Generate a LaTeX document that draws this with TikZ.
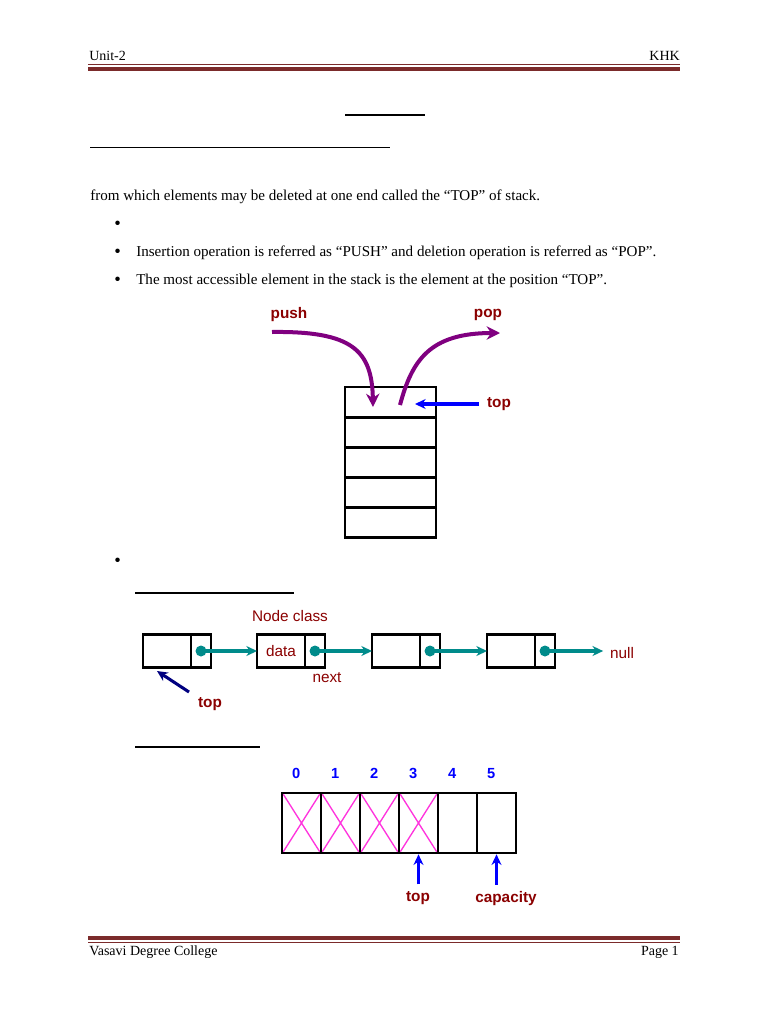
\documentclass[tikz,border=0pt]{standalone}
\usepackage{fontspec}
\setmainfont{Liberation Serif}
\newfontfamily\labelfont{Liberation Sans}
\usetikzlibrary{arrows.meta,positioning}

\def\pxu{0.75pt}
\definecolor{rulered}{HTML}{7B2B2B}
\definecolor{lblred}{HTML}{8B0000}
\definecolor{pushpurple}{HTML}{800080}
\definecolor{linkteal}{HTML}{008B8B}
\definecolor{crossmag}{HTML}{FF33DD}

\tikzset{
  bodytext/.style={anchor=west, inner sep=0, font=\fontsize{11.3}{13}\selectfont},
  bullet/.style={bodytext, font=\fontsize{14}{14}\selectfont},
  headtext/.style={inner sep=0, font=\fontsize{10.5}{12}\selectfont},
  lbl/.style={text=lblred, inner sep=0, font=\labelfont\fontsize{11.5}{13}\selectfont},
  lblb/.style={lbl, font=\labelfont\bfseries\fontsize{11.5}{13}\selectfont},
  idx/.style={text=blue, inner sep=0, anchor=base, font=\labelfont\bfseries\fontsize{11}{12}\selectfont},
  stackcell/.style={draw, line width=2.1pt, minimum width=91*\pxu, minimum height=30*\pxu, inner sep=0, outer sep=0},
  datapart/.style={draw, line width=2.1pt, minimum width=48*\pxu, minimum height=33*\pxu, inner sep=0, outer sep=0},
  nextpart/.style={datapart, minimum width=20*\pxu},
  arrcell/.style={draw, line width=2.1pt, minimum width=39*\pxu, minimum height=60*\pxu, inner sep=0, outer sep=0},
  dot/.style={circle, fill=linkteal, minimum size=11*\pxu, inner sep=0},
  linkarrow/.style={draw=linkteal, line width=2.3pt, -{Stealth[length=8pt,width=7.5pt]}},
  pusharrow/.style={draw=pushpurple, line width=3pt, -{Stealth[length=10pt,width=10pt]}},
  ptrarrow/.style={draw=blue, line width=2.3pt, -{Stealth[length=8pt,width=7.5pt]}}
}

\begin{document}
\begin{tikzpicture}[x=0.75pt, y=-0.75pt]
  \useasboundingbox[fill=white] (0,0) rectangle (768,1024);

  % header and footer
  \node[headtext, anchor=west] (unit) at (89,56) {Unit-2};
  \node[headtext, anchor=east] (khk) at (680,56) {KHK};
  \draw[rulered, line width=0.75pt] (88,65) -- (680,65);
  \draw[rulered, line width=2.6pt] (88,69) -- (680,69);
  \draw[rulered, line width=2.4pt] (88,938) -- (680,938);
  \draw[rulered, line width=0.75pt] (88,942.5) -- (680,942.5);
  \node[headtext, anchor=west] (college) at (89,952) {Vasavi Degree College};
  \node[headtext, anchor=east] (page) at (679,952) {Page 1};

  % heading rules and text
  \draw[line width=1.5pt] (345,115) -- (425,115);
  \draw[line width=0.9pt] (90,147.5) -- (390,147.5);
  \node[bodytext] (intro) at (90,196.5) {from which elements may be deleted at one end called the “TOP” of stack.};
  \node[bullet] (b1) at (114,225) {\textbullet};
  \node[bullet] (b2) at (114,253) {\textbullet};
  \node[bodytext] (t2) at (136,252.5) {Insertion operation is referred as “PUSH” and deletion operation is referred as “POP”.};
  \node[bullet] (b3) at (114,281) {\textbullet};
  \node[bodytext] (t3) at (136,280.5) {The most accessible element in the stack is the element at the position “TOP”.};

  % stack
  \foreach \i in {0,...,4}
    \node[stackcell] (s\i) at (390.5,402+30.2*\i) {};
  \node[lblb] (push) at (289,315) {push};
  \node[lblb] (pop) at (488,315) {pop};
  \node[lblb] (top) at (499,404) {top};
  \coordinate (pushin) at (272,332);
  \coordinate (pushend) at (373,407);
  \coordinate (popstart) at (400,405);
  \coordinate (popout) at (500,333);
  \coordinate (topptr) at (415,404);
  \draw[pusharrow] (pushin) .. controls (352,331) and (372,350) .. (pushend);
  \draw[pusharrow] (popstart) .. controls (412,360) and (430,333) .. (popout);
  \draw[ptrarrow] ([xshift=-6pt]top.west) -- (topptr);

  % linked list
  \node[bullet] (b4) at (114,562) {\textbullet};
  \draw[line width=0.9pt] (135,593) -- (294,593);
  \foreach \i/\x in {1/143, 2/257, 3/372, 4/487} {
    \node[datapart] (d\i) at (\x+24,651) {};
    \node[nextpart, right=0pt of d\i] (n\i) {};
    \node[dot] (p\i) at (n\i.center) {};
  }
  \node[lbl] (dlbl) at (d2.center) {data};
  \node[lbl] (nodeclass) at (290,616) {Node class};
  \node[lbl] (next) at (327,678) {next};
  \node[lbl] (null) at (622,653) {null};
  \node[lblb] (ltop) at (210,704) {top};
  \foreach \i/\j in {1/2, 2/3, 3/4}
    \draw[linkarrow] (p\i.center) -- (d\j.west);
  \draw[linkarrow] (p4.center) -- ([xshift=-5pt]p4.center -| null.west);
  \coordinate (ltopptr) at (157,671);
  \draw[draw=blue!50!black, line width=2.3pt, -{Stealth[length=8pt,width=7.5pt]}] (189,692) -- (ltopptr);

  % array
  \draw[line width=0.9pt] (135,747) -- (260,747);
  \foreach \i in {0,...,5} {
    \node[arrcell] (a\i) at (301.5+39*\i,823) {};
    \node[idx] (i\i) at ([xshift=-4pt, yshift=33.5pt]a\i.center) {\i};
  }
  \foreach \i in {0,...,3}
    \draw[crossmag, line width=1pt] ([shift={(1pt,-1pt)}]a\i.north west) -- ([shift={(-1pt,1pt)}]a\i.south east)
      ([shift={(-1pt,-1pt)}]a\i.north east) -- ([shift={(1pt,1pt)}]a\i.south west);
  \node[lblb] (atop) at (418,898) {top};
  \node[lblb] (acap) at (506,899) {capacity};
  \draw[ptrarrow] ([yshift=5pt]atop.north -| a3.south) -- ([yshift=-1pt]a3.south);
  \draw[ptrarrow] ([yshift=5pt]acap.north -| a5.south) -- ([yshift=-1pt]a5.south);
\end{tikzpicture}
\end{document}
